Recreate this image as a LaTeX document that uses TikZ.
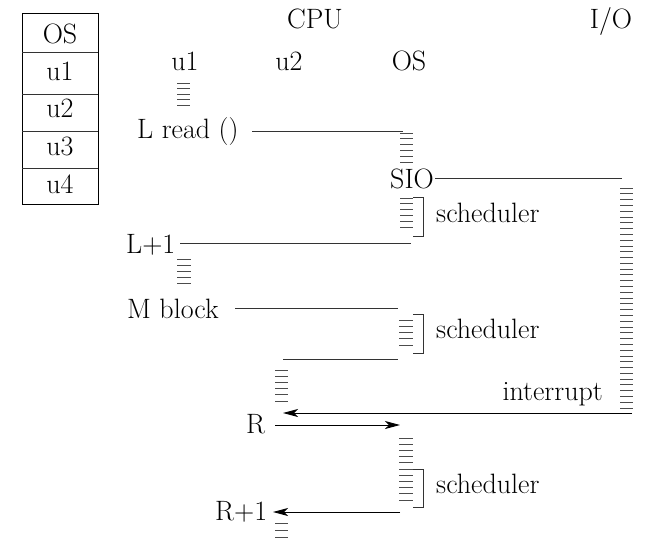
\documentclass[tikz,border=0pt]{standalone}
\usetikzlibrary{arrows.meta}
\newcommand\hatchstack[5]{%
  \foreach \k in {0,...,#5} {\draw[hatch] (#1,{#3+(#4-#3)*\k/#5}) -- (#2,{#3+(#4-#3)*\k/#5});}}
\begin{document}
\begin{tikzpicture}[x=1pt,y=-1pt,
  lbl/.style={inner sep=0pt, font=\fontsize{28}{32}\selectfont},
  conn/.style={draw=black!80, line width=0.9pt},
  arr/.style={draw=black, line width=0.9pt, -{Stealth[length=15pt,width=8pt,inset=4pt]}},
  hatch/.style={draw=black!70, line width=0.8pt},
  brk/.style={draw=black!80, line width=0.9pt}]
\useasboundingbox (0,0) rectangle (648,542);
% memory table
\draw[conn,draw=black] (22,13) rectangle (98,204);
\foreach \yy in {52,94,131,168} \draw[conn] (22,\yy) -- (98,\yy);
\node[lbl,anchor=base] (mOS) at (60,43) {OS};
\node[lbl,anchor=base] (mu1) at (60,80) {u1};
\node[lbl,anchor=base] (mu2) at (60,117) {u2};
\node[lbl,anchor=base] (mu3) at (60,155) {u3};
\node[lbl,anchor=base] (mu4) at (60,193) {u4};
% headers
\node[lbl,anchor=base] (cpu) at (315,28) {CPU};
\node[lbl,anchor=base] (io) at (611,28) {I/O};
\node[lbl,anchor=base] (hu1) at (185,70) {u1};
\node[lbl,anchor=base] (hu2) at (289,70) {u2};
\node[lbl,anchor=base] (hos) at (409,70) {OS};
% labels
\node[lbl,anchor=base west] (lread) at (137,138) {L read ()};
\node[lbl,anchor=base west] (sio) at (390,188) {SIO};
\node[lbl,anchor=base west] (l1) at (126,253) {L+1};
\node[lbl,anchor=base west] (mblock) at (127,318) {M block};
\node[lbl,anchor=base west] (r) at (246,433) {R};
\node[lbl,anchor=base west] (r1) at (215,520) {R+1};
\node[lbl,anchor=base west] (s1) at (436,222) {scheduler};
\node[lbl,anchor=base west] (s2) at (436,338) {scheduler};
\node[lbl,anchor=base west] (s3) at (436,493) {scheduler};
\node[lbl,anchor=base east] (intr) at (603,400) {interrupt};
% hatch stacks
\hatchstack{177}{190}{83}{105}{4}
\hatchstack{400}{413}{133}{162}{5}
\hatchstack{400}{413}{198}{227}{5}
\hatchstack{177}{191}{259}{283}{4}
\hatchstack{399}{413}{320}{345}{4}
\hatchstack{275}{288}{370}{401}{5}
\hatchstack{399}{413}{438}{500}{10}
\hatchstack{275}{288}{523}{537}{2}
\hatchstack{620}{633}{188}{408}{38}
% brackets
\draw[brk] (413,197) -- (423,197) -- (423,236) -- (413,236);
\draw[brk] (413,314) -- (423,314) -- (423,353) -- (413,353);
\draw[brk] (413,469) -- (423,469) -- (423,507) -- (413,507);
% connector coordinates
\coordinate (a1) at (252,131); \coordinate (a2) at (403,131);
\coordinate (b1) at (435,178); \coordinate (b2) at (622,178);
\coordinate (c1) at (180,243); \coordinate (c2) at (411,243);
\coordinate (d1) at (235,308); \coordinate (d2) at (398,308);
\coordinate (e1) at (283,359); \coordinate (e2) at (398,359);
\coordinate (f1) at (632,413); \coordinate (f2) at (283,413);
\coordinate (g1) at (275,425); \coordinate (g2) at (400,425);
\coordinate (h1) at (400,512); \coordinate (h2) at (273,512);
\draw[conn] (a1) -- (a2);
\draw[conn] (b1) -- (b2);
\draw[conn] (c1) -- (c2);
\draw[conn] (d1) -- (d2);
\draw[conn] (e1) -- (e2);
\draw[arr] (f1) -- (f2);
\draw[arr] (g1) -- (g2);
\draw[arr] (h1) -- (h2);
\end{tikzpicture}
\end{document}
